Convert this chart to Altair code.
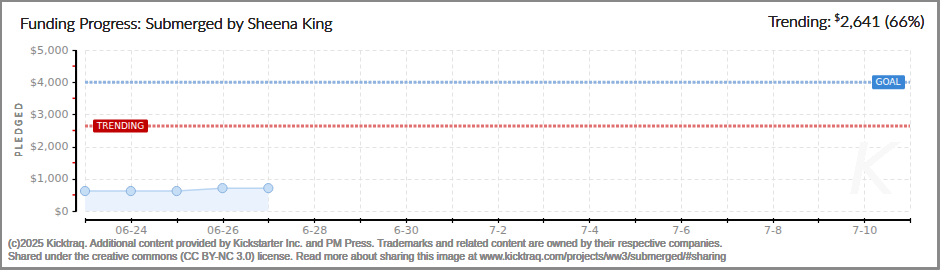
import altair as alt
import pandas as pd

# ---- data ----
day_labels = ["", "06-24", "", "06-26", "", "6-28", "", "6-30", "", "7-2", "", "7-4", "", "7-6", "", "7-8", "", "7-10", ""]
point_days = [0, 1, 2, 3, 4]
pledged = [620, 620, 620, 710, 710]
goal_value = [4000]
trending_value = [2641]
y_ticks = [0, 1000, 2000, 3000, 4000, 5000]
minor_ticks = [500, 1500, 2500, 3500, 4500]

W, H = 825, 161
PL, PT = 85, 50

def X(px):
    return px - PL

def Y(py):
    return py - PT

df = pd.DataFrame({"day": point_days, "pledged": pledged})
goal_df = pd.DataFrame({"v": goal_value})
trend_df = pd.DataFrame({"v": trending_value})
minor_df = pd.DataFrame({"v": minor_ticks})

label_arr = "[" + ",".join("'" + s + "'" for s in day_labels) + "]"

xscale = alt.Scale(domain=[0, 18], nice=False, zero=False)
yscale = alt.Scale(domain=[0, 5000], nice=False)

x_axis = alt.Axis(values=list(range(19)), labelExpr=label_arr + "[datum.value]",
                  grid=True, gridDash=[4, 3], gridColor="#e3e3e3", domain=False,
                  tickColor="#000", tickSize=5, tickWidth=1.2, offset=6.5,
                  labelColor="#888", labelFont="DejaVu Sans", labelFontSize=11,
                  labelPadding=2, title=None, labelFlush=False, labelOverlap=False)
y_axis = alt.Axis(values=y_ticks, format="$,.0f",
                  grid=True, gridDash=[4, 3], gridColor="#e3e3e3",
                  domain=True, domainColor="#000", domainWidth=1.2,
                  tickColor="#000", tickSize=4, tickWidth=1.2, offset=9,
                  labelColor="#888", labelFont="DejaVu Sans", labelFontSize=11,
                  labelPadding=4, title=None, labelOverlap=False, labelFlush=False)

Yq = lambda f: alt.Y(f, scale=yscale, axis=y_axis)
Xq = lambda f: alt.X(f, scale=xscale, axis=x_axis)

base = alt.Chart(df)

area = base.mark_area(color="#eaf3fd", opacity=1, line={"color": "#b9d5f2", "strokeWidth": 1.5}).encode(
    x=Xq("day:Q"), y=Yq("pledged:Q"))
pts = base.mark_circle(size=85, color="#c6ddf6", opacity=1, stroke="#8ab3e0", strokeWidth=1).encode(
    x=Xq("day:Q"), y=Yq("pledged:Q"))

goal_line = alt.Chart(goal_df).mark_rule(color="#8fb3df", strokeWidth=3, strokeDash=[3, 1.5]).encode(
    y=Yq("v:Q"), x=alt.value(0), x2=alt.value(W))
trend_line = alt.Chart(trend_df).mark_rule(color="#e07070", strokeWidth=3, strokeDash=[3, 1.5]).encode(
    y=Yq("v:Q"), x=alt.value(0), x2=alt.value(W))

goal_box = alt.Chart(goal_df).mark_rect(color="#3a86d6", yOffset=-7, y2Offset=7, cornerRadius=1.5).encode(
    y=Yq("v:Q"), y2="v:Q", x=alt.value(X(872)), x2=alt.value(X(905)))
goal_txt = alt.Chart(goal_df).mark_text(text="GOAL", color="white", font="DejaVu Sans", fontSize=9,
                                        baseline="middle", align="center").encode(
    y=Yq("v:Q"), x=alt.value(X(888)))
trend_box = alt.Chart(trend_df).mark_rect(color="#c00000", yOffset=-6.5, y2Offset=6.5, cornerRadius=1.5).encode(
    y=Yq("v:Q"), y2="v:Q", x=alt.value(X(93)), x2=alt.value(X(148)))
trend_txt = alt.Chart(trend_df).mark_text(text="TRENDING", color="white", font="DejaVu Sans", fontSize=9,
                                          baseline="middle", align="center").encode(
    y=Yq("v:Q"), x=alt.value(X(120.5)))

minor = alt.Chart(minor_df).mark_rule(color="#e00000", strokeWidth=1.5).encode(
    y=Yq("v:Q"), x=alt.value(X(72.5)), x2=alt.value(X(76)))

x_domain = alt.Chart(df).mark_rule(color="#000", strokeWidth=1.2).encode(
    x=alt.value(0), x2=alt.value(W), y=alt.value(Y(220)))
y_domain = alt.Chart(df).mark_rule(color="#000", strokeWidth=1.2).encode(
    x=alt.value(X(76)), y=alt.value(0), y2=alt.value(H))

def txt(text, px, py, **kw):
    return alt.Chart(df).mark_text(text=text, **kw).encode(x=alt.value(X(px)), y=alt.value(Y(py)))

title = txt("Funding Progress: Submerged by Sheena King", 20, 29, align="left", baseline="alphabetic",
            font="Lato", fontSize=15.9, fontWeight=300, color="#222")
trend1 = txt("Trending:", 831, 27, align="right", baseline="alphabetic", font="Lato", fontSize=16, fontWeight=300, color="#222")
trend_dollar = txt("$", 840, 21, align="right", baseline="alphabetic", font="Lato", fontSize=10, fontWeight=300, color="#222")
trend2 = txt("2,641 (66%)", 840, 27, align="left", baseline="alphabetic", font="Lato", fontSize=16, fontWeight=300, color="#222")
ytitle = alt.Chart(df).mark_text(text="P L E D G E D", angle=270, align="center", baseline="middle",
                                 font="DejaVu Sans", fontSize=8, color="#888").encode(
    x=alt.value(X(20)), y=alt.value(Y(130)))
foot1 = txt("(c)2025 Kicktraq. Additional content provided by Kickstarter Inc. and PM Press. Trademarks and related content are owned by their respective companies.",
            8, 247, align="left", baseline="alphabetic", font="Liberation Sans", fontSize=10.5, color="#888")
foot2 = txt("Shared under the creative commons (CC BY-NC 3.0) license. Read more about sharing this image at www.kicktraq.com/projects/ww3/submerged/#sharing",
            8, 260, align="left", baseline="alphabetic", font="Liberation Sans", fontSize=10.5, color="#888")
watermark = txt("K", 872, 172, align="center", baseline="middle", font="DejaVu Sans", fontSize=72,
                fontStyle="italic", color="#f8f8f8")

border = alt.Chart(df).mark_rect(fill=None, stroke="#888", strokeWidth=2).encode(
    x=alt.value(X(1)), x2=alt.value(X(938.5)), y=alt.value(Y(1)), y2=alt.value(Y(268.5)))

chart = alt.layer(
    area, watermark, goal_line, trend_line, pts, goal_box, goal_txt, trend_box, trend_txt,
    minor, x_domain, y_domain, title, trend1, trend_dollar, trend2, ytitle, foot1, foot2, border
).properties(
    width=W, height=H,
    autosize=alt.AutoSizeParams(type="none"),
    padding={"left": PL, "top": PT, "right": 940 - PL - W, "bottom": 270 - PT - H},
    background="white",
).configure_view(stroke=None)

chart.save("out.html", embed_options={"renderer": "svg", "actions": False})
